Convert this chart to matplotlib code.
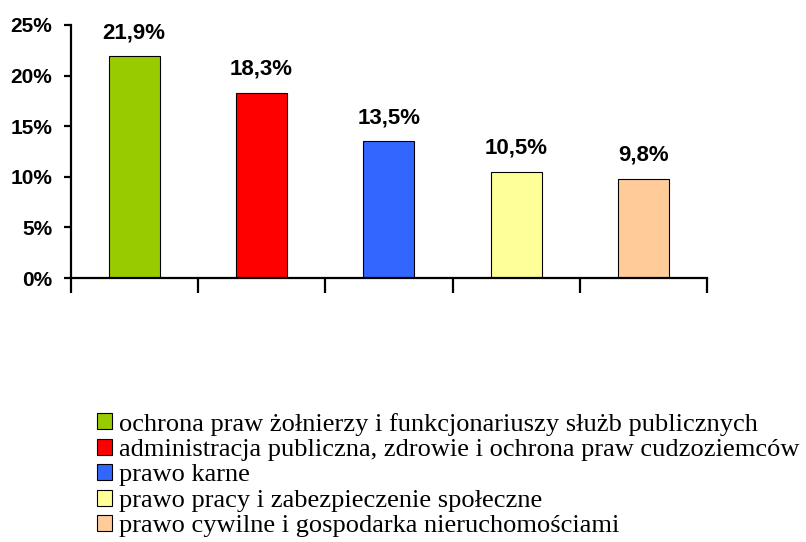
import matplotlib
matplotlib.use("Agg")
from matplotlib import pyplot as plt
from matplotlib.patches import Patch
from matplotlib.ticker import FuncFormatter

categories = [
    "ochrona praw żołnierzy i funkcjonariuszy służb publicznych",
    "administracja publiczna, zdrowie i ochrona praw cudzoziemców",
    "prawo karne",
    "prawo pracy i zabezpieczenie społeczne",
    "prawo cywilne i gospodarka nieruchomościami",
]
values = [21.9, 18.3, 13.5, 10.5, 9.8]
colors = ["#99CC00", "#FF0000", "#3366FF", "#FFFF99", "#FFCC99"]

fig = plt.figure(figsize=(8.06, 5.42), dpi=100)
ax = fig.add_axes([0.0875, 0.487, 0.79, 0.467])

x = list(range(len(values)))
ax.bar(x, values, width=0.4, color=colors, edgecolor="black", linewidth=0.8, zorder=2)

# value labels above the bars
for xi, v in zip(x, values):
    ax.annotate(f"{v:.1f}%".replace(".", ","), (xi, v), xytext=(0, 13),
                textcoords="offset points", ha="center", va="baseline",
                fontsize=16, fontweight="bold", family="Liberation Sans")

ax.set_xlim(-0.5, len(values) - 0.5)
ax.set_ylim(0, 25)
ax.set_yticks([0, 5, 10, 15, 20, 25])
ax.yaxis.set_major_formatter(FuncFormatter(lambda v, p: f"{v:.0f}%"))
ax.set_xticks([i - 0.5 for i in range(len(values) + 1)])
ax.set_xticklabels([])

for s in ["top", "right"]:
    ax.spines[s].set_visible(False)
for s in ["left", "bottom"]:
    ax.spines[s].set_linewidth(1.6)

ax.tick_params(axis="x", direction="out", length=11, width=1.6)
ax.tick_params(axis="y", direction="out", length=5, width=1.6, pad=8)
for lab in ax.get_yticklabels():
    lab.set_fontsize(15)
    lab.set_fontweight("bold")
    lab.set_family("Liberation Sans")

# legend below the chart
handles = [Patch(facecolor=c, edgecolor="black", linewidth=0.8) for c in colors]
fig.legend(handles, categories, loc="center left", bbox_to_anchor=(97 / 806, 1 - 475 / 542),
           frameon=False, prop={"family": "Liberation Serif", "size": 19},
           handlelength=0.55, handleheight=0.55, handletextpad=0.3,
           labelspacing=0.12, borderaxespad=0, borderpad=0)

fig.savefig("out.png", dpi=100)
